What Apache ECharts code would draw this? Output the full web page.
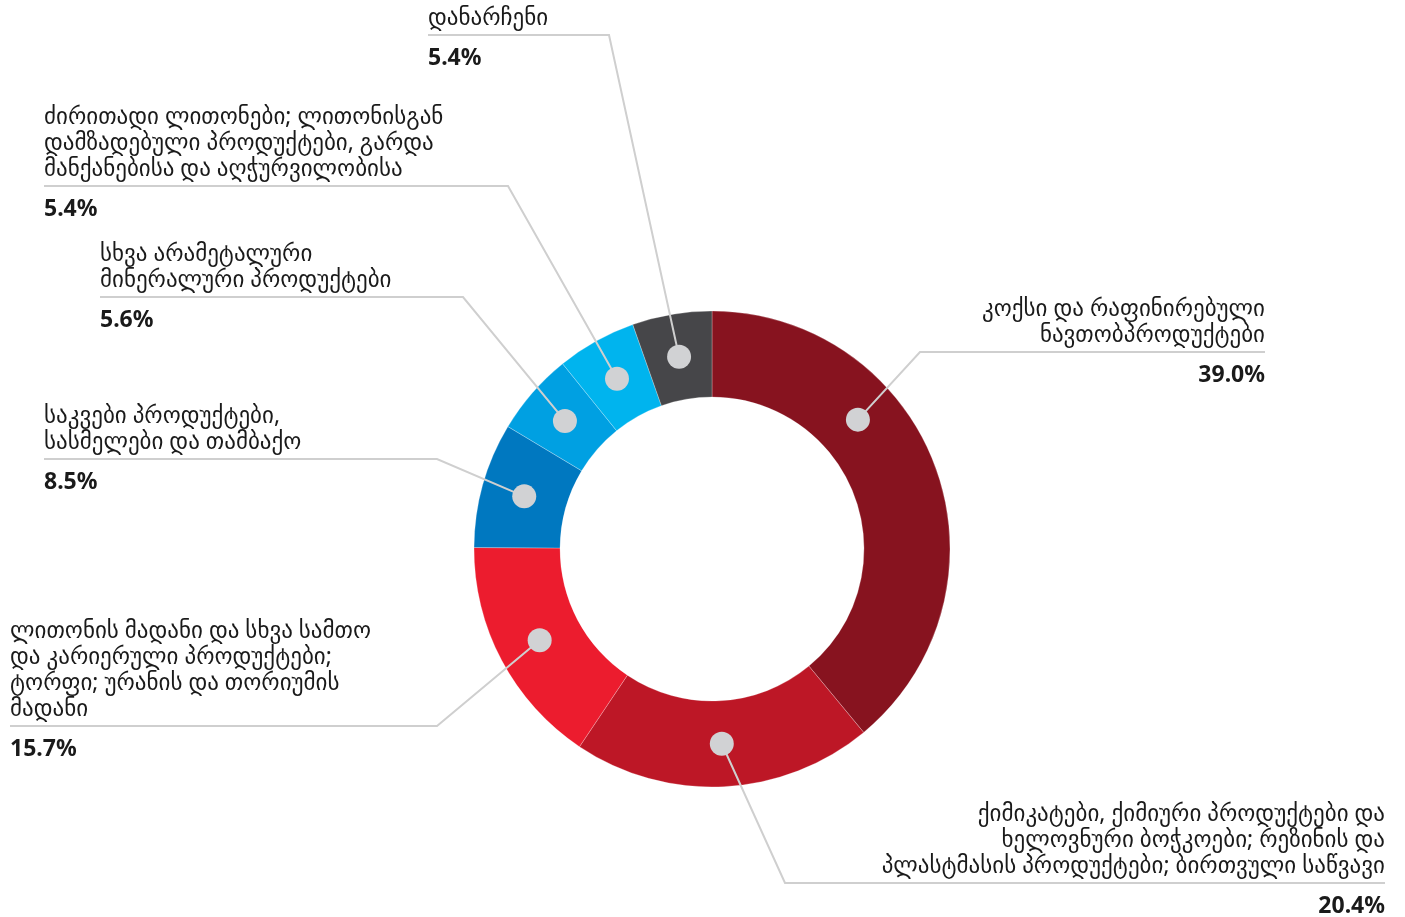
<!DOCTYPE html>
<html>
<head>
<meta charset="utf-8">
<script src="https://cdn.jsdelivr.net/npm/echarts@6/dist/echarts.min.js"></script>
<style>
  html, body { margin: 0; padding: 0; background: #fff; }
  #chart { width: 1405px; height: 917px; }
</style>
</head>
<body>
<div id="chart"></div>
<script>
// data, clockwise from 12 o'clock
const categories = [
  'კოქსი და რაფინირებული\nნავთობპროდუქტები',
  'ქიმიკატები, ქიმიური პროდუქტები და\nხელოვნური ბოჭკოები; რეზინის და\nპლასტმასის პროდუქტები; ბირთვული საწვავი',
  'ლითონის მადანი და სხვა სამთო\nდა კარიერული პროდუქტები;\nტორფი; ურანის და თორიუმის\nმადანი',
  'საკვები პროდუქტები,\nსასმელები და თამბაქო',
  'სხვა არამეტალური\nმინერალური პროდუქტები',
  'ძირითადი ლითონები; ლითონისგან\nდამზადებული პროდუქტები, გარდა\nმანქანებისა და აღჭურვილობისა',
  'დანარჩენი'
];
const values = [39.0, 20.4, 15.7, 8.5, 5.6, 5.4, 5.4];
const colors = ['#87131F', '#BD1726', '#EC1C2E', '#0078C0', '#00A0E2', '#00B4EE', '#464649'];

// where each label sits: text edge x, underline y, knee x of the leader line,
// and where along its slice the dot sits (0..1)
const labelAnchors = [
  { side: 'right', x: 1265, y: 352, knee: 920, at: 0.345 },
  { side: 'right', x: 1385, y: 883, knee: 785, at: 0.5 },
  { side: 'left', x: 10, y: 726, knee: 437, at: 0.5 },
  { side: 'left', x: 44, y: 459, knee: 437, at: 0.5 },
  { side: 'left', x: 100, y: 297, knee: 463, at: 0.5 },
  { side: 'left', x: 44, y: 186, knee: 508, at: 0.5 },
  { side: 'left', x: 428, y: 35, knee: 609, at: 0.5 }
];

const center = [712, 549];
const outerR = 238, innerR = 152, dotR = 195;

const total = values.reduce((a, b) => a + b, 0);
let acc = 0;
const dotAngles = values.map((v, i) => {
  const a = acc + v * labelAnchors[i].at;
  acc += v;
  return a;
});
const dots = dotAngles.map(a => [dotR / outerR, a]);

function dotPixel(i) {
  const t = dotAngles[i] / total * Math.PI * 2;
  return [center[0] + dotR * Math.sin(t), center[1] - dotR * Math.cos(t)];
}

const pieData = categories.map((name, i) => ({
  name: name,
  value: values[i],
  itemStyle: { color: colors[i] }
}));

const chart = echarts.init(document.getElementById('chart'));
chart.setOption({
  animation: false,
  polar: { center: center, radius: outerR },
  angleAxis: { type: 'value', min: 0, max: total, startAngle: 90, clockwise: true, show: false },
  radiusAxis: { type: 'value', min: 0, max: 1, show: false },
  series: [
    {
      // the ring, carries the percentage labels
      type: 'pie',
      center: center,
      radius: [innerR, outerR],
      startAngle: 90,
      silent: true,
      data: pieData,
      itemStyle: { borderColor: 'rgba(255,255,255,0.5)', borderWidth: 0.5 },
      label: {
        show: true,
        position: 'outside',
        formatter: p => p.value.toFixed(1) + '%',
        fontFamily: "'Noto Sans', sans-serif",
        fontWeight: 'bold',
        fontSize: 23,
        lineHeight: 26,
        color: '#1a1a1a'
      },
      labelLine: { show: false },
      labelLayout: p => {
        const a = labelAnchors[p.dataIndex];
        return { x: a.x, y: a.y + 10, align: a.side, verticalAlign: 'top' };
      }
    },
    {
      // invisible pie, carries the names and leader lines
      type: 'pie',
      center: center,
      radius: [0, dotR],
      startAngle: 90,
      silent: true,
      z: 3,
      data: pieData.map(d => ({ name: d.name, value: d.value, itemStyle: { color: 'rgba(0,0,0,0)' } })),
      label: {
        show: true,
        position: 'outside',
        formatter: '{b}',
        fontFamily: "'Noto Sans', 'DejaVu Sans', sans-serif",
        fontSize: 23,
        lineHeight: 26,
        color: '#1a1a1a'
      },
      labelLine: { show: true, lineStyle: { color: '#CFCFCF', width: 2 } },
      labelLayout: p => {
        const a = labelAnchors[p.dataIndex];
        return {
          x: a.x,
          y: a.y - 4,
          align: a.side,
          verticalAlign: 'bottom',
          labelLinePoints: [dotPixel(p.dataIndex), [a.knee, a.y], [a.x, a.y]]
        };
      }
    },
    {
      type: 'scatter',
      coordinateSystem: 'polar',
      symbolSize: 24,
      silent: true,
      z: 5,
      itemStyle: { color: '#D1D2D4', opacity: 1 },
      data: dots
    }
  ]
});
</script>
</body>
</html>
